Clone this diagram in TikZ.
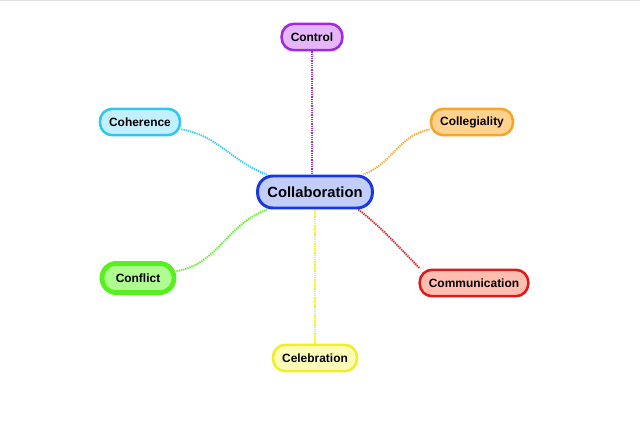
\documentclass[tikz,border=0pt]{standalone}
\usepackage{fontspec}
\setmainfont{Liberation Sans}
\usetikzlibrary{backgrounds}
\definecolor{hubline}{RGB}{25,55,225}
\definecolor{hubfill}{RGB}{195,205,250}
\definecolor{ctrlline}{RGB}{160,40,225}
\definecolor{ctrlfill}{RGB}{230,182,250}
\definecolor{cohline}{RGB}{45,200,240}
\definecolor{cohfill}{RGB}{195,240,255}
\definecolor{collline}{RGB}{245,165,40}
\definecolor{collfill}{RGB}{255,210,142}
\definecolor{confline}{RGB}{85,240,30}
\definecolor{conffill}{RGB}{175,252,145}
\definecolor{commline}{RGB}{220,25,25}
\definecolor{commfill}{RGB}{255,190,175}
\definecolor{celline}{RGB}{240,238,40}
\definecolor{celfill}{RGB}{255,252,182}
\tikzset{
  hub/.style={draw=hubline, fill=hubfill, line width=2.1pt, rounded corners=0.38cm,
    minimum height=0.8cm, inner xsep=7pt, font=\fontsize{10.5}{12}\selectfont\bfseries},
  topic/.style={draw=#1line, fill=#1fill, line width=1.8pt, rounded corners=0.31cm,
    minimum height=0.66cm, inner xsep=6.5pt, font=\fontsize{8.5}{10}\selectfont\bfseries},
  link/.style={draw=#1line, line width=1.3pt, dash pattern=on 0.9pt off 0.7pt},
}
\begin{document}
\begin{tikzpicture}[x=0.025cm, y=0.025cm]
    \useasboundingbox (0,0) rectangle (640,440);
    \draw[black!12, line width=0.8pt] (0,439.6) -- (640,439.6);
    \node[hub] (collab) at (315,248) {Collaboration};
    \node[topic=ctrl] (control) at (312,403) {Control};
    \node[topic=coh] (coherence) at (140,318) {Coherence};
    \node[topic=coll] (collegiality) at (472,318) {Collegiality};
    \node[topic=conf, line width=3.4pt, minimum width=1.8cm, minimum height=0.73cm,
      rounded corners=0.36cm] (conflict) at (138,162) {Conflict};
    \node[topic=comm] (communication) at (474,157) {Communication};
    \node[topic=cel] (celebration) at (315,82) {Celebration};
    \begin{scope}[on background layer]
      \draw[link=ctrl] (control) -- (control |- collab);
      \draw[link=cel] (celebration) -- (collab);
      \draw[link=coh] (coherence) to[out=-10, in=160] (collab);
      \draw[link=coll] (collegiality) to[out=190, in=20] (collab);
      \draw[link=conf] (conflict) to[out=10, in=200] (collab);
      \draw[link=comm] (collab.-22) to[out=-38, in=135] (communication.165);
    \end{scope}
  \end{tikzpicture}
\end{document}
